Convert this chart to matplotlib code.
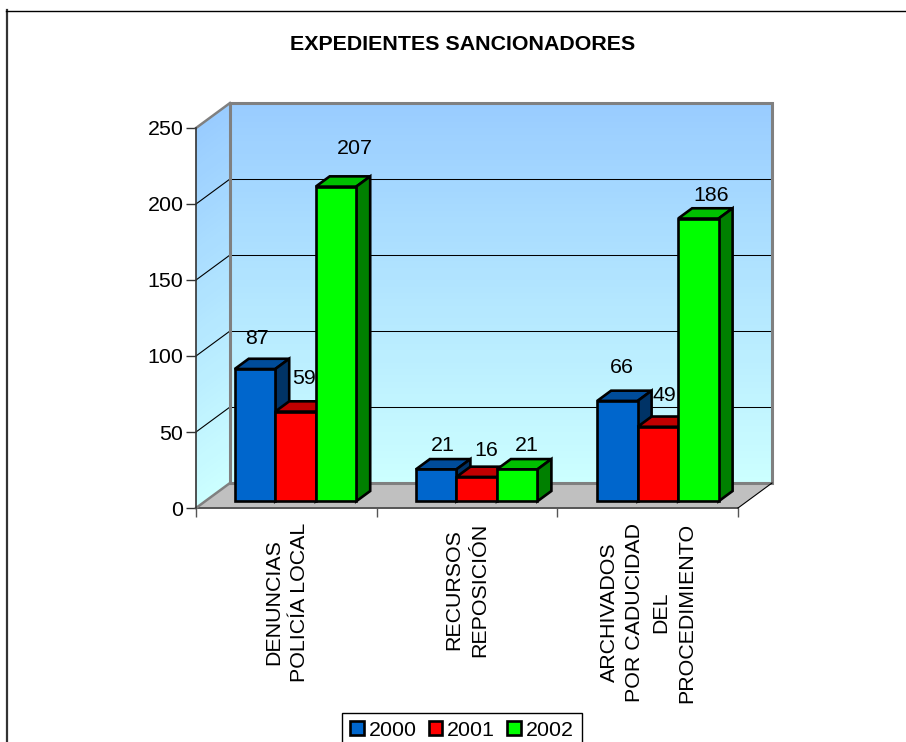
#encoding=utf8
import matplotlib
matplotlib.use('Agg')
import matplotlib.pyplot as plt
from matplotlib.lines import Line2D
from matplotlib.patches import Patch
import numpy as np

titulo = 'EXPEDIENTES SANCIONADORES'
categorias = ['DENUNCIAS\nPOLICÍA LOCAL', 'RECURSOS\nREPOSICIÓN',
              'ARCHIVADOS\nPOR CADUCIDAD\nDEL\nPROCEDIMIENTO']
anios = ['2000', '2001', '2002']
v2000 = [87, 21, 66]
v2001 = [59, 16, 49]
v2002 = [207, 21, 186]
yticks = [0, 50, 100, 150, 200, 250]

plt.rcParams['font.family'] = ['Liberation Sans', 'DejaVu Sans']

W, H = 906, 742
fig = plt.figure(figsize=(W / 100, H / 100), dpi=100)
ax = fig.add_axes([196 / W, (H - 508) / H, 542 / W, 380 / H])
ax.set_xlim(0, 3)
ax.set_ylim(0, 250)
ax.patch.set_visible(False)

# fake 3d: a point at depth d (0 front, 1 back) is shifted by this much
PX_X = 542 / 3
PX_Y = 380 / 250
DX = 34 / PX_X
DY = 25 / PX_Y
FS = 15.4

def pr(x, y, d):
    return x + d * DX, y + d * DY

# walls with gradient, drawn as sheared meshes
n = 60
top = np.array([0x99, 0xCC, 0xFF]) / 255
bot = np.array([0xCC, 0xFF, 0xFF]) / 255
t = (np.arange(n) + 0.5) / n
cols = (bot[None, :] * (1 - t[:, None]) + top[None, :] * t[:, None])[:, None, :]
ys = np.linspace(0, 250, n + 1)
# back wall
X, Y = np.meshgrid([0, 3], ys)
ax.pcolormesh(X + DX, Y + DY, cols, clip_on=False, zorder=1, linewidth=0)
# left wall
X = np.tile([0, DX], (n + 1, 1))
Y = np.column_stack([ys, ys + DY])
ax.pcolormesh(X, Y, cols, clip_on=False, zorder=1, linewidth=0)

# floor
fx, fy = zip(pr(0, 0, 0), pr(3, 0, 0), pr(3, 0, 1), pr(0, 0, 1))
ax.fill(fx, fy, color='#C0C0C0', lw=0, clip_on=False, zorder=2)

# grid lines
for v in yticks[1:-1]:
    ax.plot([0, DX], [v, v + DY], color='black', lw=0.8, clip_on=False, zorder=3)
    ax.plot([DX, 3 + DX], [v + DY, v + DY], color='black', lw=0.75, clip_on=False, zorder=3)

# wall borders
gris = '#808080'
ax.plot([DX, DX, 3 + DX, 3 + DX, DX], [DY, 250 + DY, 250 + DY, DY, DY], color=gris, lw=2.2,
        clip_on=False, zorder=4, solid_joinstyle='miter')
ax.plot([0, DX], [250, 250 + DY], color=gris, lw=1.8, clip_on=False, zorder=4)
ax.plot([0, DX], [0, DY], color=gris, lw=1.8, clip_on=False, zorder=4)
ax.plot([3, 3 + DX], [0, DY], color='black', lw=0.8, clip_on=False, zorder=4)

# bars
series = [v2000, v2001, v2002]
frente = ['#0066CC', '#FF0000', '#00FF00']
tapa = ['#004C99', '#C00000', '#00C000']
lado = ['#003366', '#800000', '#008000']
# label offsets in pixels from the front top of each bar
off = [[(2, 31), (7, 24), (4, 33)],
       [(9, 33), (10, 26), (6, 31)],
       [(19, 38), (10, 24), (13, 23)]]
d0, d1 = 0.27, 0.68
ancho = 40.5 / PX_X
paso = 181.2 / PX_X
hueco = (1 - 3 * ancho) / 2
z = 5
for c in range(3):
    for s in range(3):
        v = series[s][c]
        x0 = c * paso + hueco + s * ancho + d0 * DX
        x1 = x0 + ancho
        base = d0 * DY
        sx = d1 * DX - d0 * DX
        sy = (d1 - d0) * DY
        ax.fill([x0, x1, x1 + sx, x0 + sx], [base + v, base + v, base + v + sy, base + v + sy],
                facecolor=tapa[s], edgecolor='black', lw=1.9, clip_on=False, zorder=z)
        ax.fill([x1, x1 + sx, x1 + sx, x1], [base, base + sy, base + v + sy, base + v],
                facecolor=lado[s], edgecolor='black', lw=1.9, clip_on=False, zorder=z)
        ax.bar(x0, v, width=ancho, bottom=base, align='edge', color=frente[s], edgecolor='black',
               lw=1.9, clip_on=False, zorder=z)
        z += 1

for s in range(3):
    for c in range(3):
        v = series[s][c]
        x0 = c * paso + hueco + s * ancho + d0 * DX
        ax.annotate(str(v), xy=(x0 + ancho / 2, d0 * DY + v),
                    xytext=(off[s][c][0] * 0.72, off[s][c][1] * 0.72), textcoords='offset points',
                    ha='center', va='center', fontsize=FS, color='black', zorder=40, annotation_clip=False)

# axes
for sp in ['top', 'right']:
    ax.spines[sp].set_visible(False)
ax.spines['left'].set_color('#333333')
ax.spines['left'].set_linewidth(1.2)
ax.spines['bottom'].set_color('#555555')
ax.spines['bottom'].set_linewidth(1.4)
ax.spines['left'].set_zorder(30)
ax.spines['bottom'].set_zorder(3)
ax.set_yticks(yticks)
ax.tick_params(axis='y', length=7, width=1, color='#333333', labelsize=FS, pad=2)
ax.set_xticks([0, 1, 2, 3])
ax.set_xticklabels([])
ax.tick_params(axis='x', which='major', length=6.5, width=1, color='#555555')
ax.set_xticks([0.5, 1.5, 2.5], minor=True)
ax.set_xticklabels(categorias, minor=True, rotation=90, ha='center', va='top',
                   multialignment='center', fontsize=FS, linespacing=1.45)
ax.tick_params(axis='x', which='minor', length=0, pad=10.5)

fig.text(463 / W, 1 - 44 / H, titulo, ha='center', va='center', fontsize=15.4, fontweight='bold')

# chart frame cut by the picture edges
fig.add_artist(Line2D([6.5 / W, 6.5 / W], [0, 1 - 10 / H], color='#333333', lw=1.6))
fig.add_artist(Line2D([6 / W, 1], [1 - 10.5 / H, 1 - 10.5 / H], color='black', lw=1.0))

handles = [Patch(facecolor=frente[i], edgecolor='black', lw=1.9, label=anios[i]) for i in range(3)]
leg = fig.legend(handles=handles, ncol=3, loc='upper left', bbox_to_anchor=(342 / W, 1 - 713 / H),
                 fontsize=FS, fancybox=False, framealpha=1, edgecolor='black', borderaxespad=0,
                 handlelength=0.65, handleheight=0.65, handletextpad=0.23, columnspacing=0.56,
                 borderpad=0.36)
leg.get_frame().set_linewidth(1.0)

fig.savefig('out.png', dpi=100)
